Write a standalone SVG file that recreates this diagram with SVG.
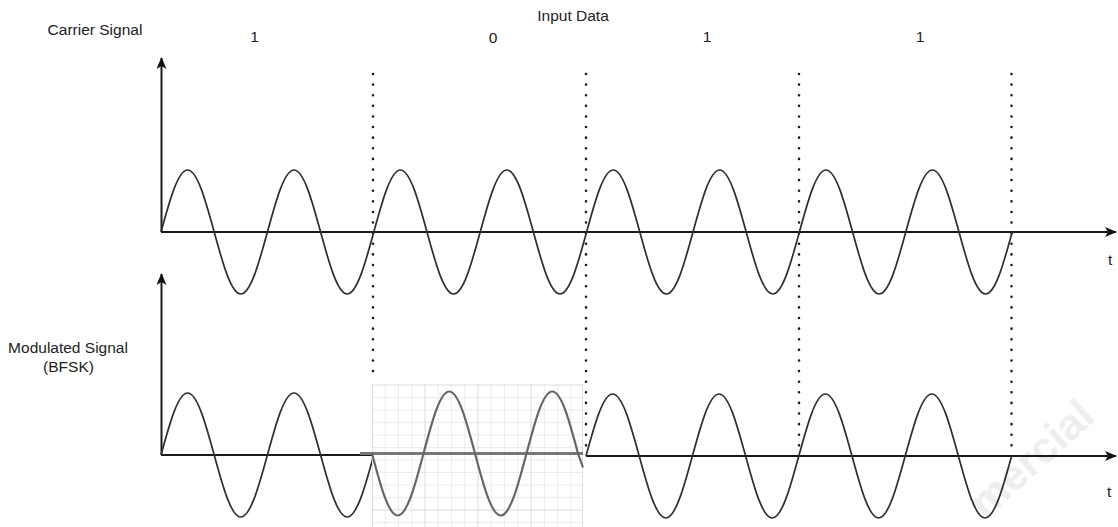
<svg xmlns="http://www.w3.org/2000/svg" width="1118" height="527" viewBox="0 0 1118 527">
  <style>
    .lbl { font-family: "Liberation Sans", Arial, sans-serif; font-size: 15.5px; fill: #222; }
    .axis { stroke: #1a1a1a; stroke-width: 2; fill: none; }
    .wave { stroke: #2e2e2e; stroke-width: 1.7; fill: none; }
    .div { stroke: #1a1a1a; stroke-width: 2.6; stroke-dasharray: 0.01 10.6; stroke-linecap: round; fill: none; }
    .gmin { stroke: #ececec; stroke-width: 1; }
    .gmaj { stroke: #dcdcdc; stroke-width: 1; }
  </style>
  <defs>
    <marker id="arr" viewBox="0 0 12 10" refX="11" refY="5" markerWidth="12" markerHeight="10" markerUnits="userSpaceOnUse" orient="auto">
      <path d="M0,0 L12,5 L0,10 L3,5 Z" fill="#111"/>
    </marker>
  </defs>
  <rect width="1118" height="527" fill="#fff"/>

  <g id="watermark">
    <text x="985" y="520" transform="rotate(-42 985 520)" font-family="Liberation Sans, Arial, sans-serif" font-size="43" font-weight="bold" fill="#eeeeee">mercial</text>
  </g>

  <g id="connectors">
    <g id="dividers">
      <line class="div" x1="373" y1="74" x2="373" y2="380"/>
      <line class="div" x1="586" y1="74" x2="586" y2="455"/>
      <line class="div" x1="799" y1="74" x2="799" y2="455"/>
      <line class="div" x1="1011.5" y1="74" x2="1011.5" y2="455"/>
    </g>
    <g id="axes">
      <line class="axis" x1="161.5" y1="232" x2="161.5" y2="58" marker-end="url(#arr)"/>
      <line class="axis" x1="161" y1="232" x2="1116" y2="232" marker-end="url(#arr)"/>
      <line class="axis" x1="161.5" y1="455" x2="161.5" y2="274" marker-end="url(#arr)"/>
      <line class="axis" x1="161" y1="455" x2="373" y2="455"/>
      <line class="axis" x1="586" y1="456" x2="1116" y2="456" marker-end="url(#arr)"/>
    </g>
  </g>

  <g id="carrier">
    <path class="wave" d="M161,232 c 8.675,-31.76 16.97,-62 26.6,-62 s 17.925,30.24 26.6,62 s 16.97,62 26.6,62 s 17.925,-30.24 26.6,-62
      s 16.97,-62 26.6,-62 s 17.925,30.24 26.6,62 s 16.97,62 26.6,62 s 17.925,-30.24 26.6,-62
      s 16.97,-62 26.6,-62 s 17.925,30.24 26.6,62 s 16.97,62 26.6,62 s 17.925,-30.24 26.6,-62
      s 16.97,-62 26.6,-62 s 17.925,30.24 26.6,62 s 16.97,62 26.6,62 s 17.925,-30.24 26.6,-62
      s 16.97,-62 26.6,-62 s 17.925,30.24 26.6,62 s 16.97,62 26.6,62 s 17.925,-30.24 26.6,-62
      s 16.97,-62 26.6,-62 s 17.925,30.24 26.6,62 s 16.97,62 26.6,62 s 17.925,-30.24 26.6,-62
      s 16.97,-62 26.6,-62 s 17.925,30.24 26.6,62 s 16.97,62 26.6,62 s 17.925,-30.24 26.6,-62
      s 16.97,-62 26.6,-62 s 17.925,30.24 26.6,62 s 16.97,62 26.6,62 s 17.925,-30.24 26.6,-62"/>
  </g>

  <g id="modulated-bit1">
    <path class="wave" d="M161,455 c 8.675,-31.76 16.97,-62 26.6,-62 s 17.925,30.24 26.6,62 s 16.97,62 26.6,62 s 17.925,-30.24 26.6,-62
      s 16.97,-62 26.6,-62 s 17.925,30.24 26.6,62 s 16.97,62 26.6,62 s 17.925,-30.24 26.6,-62"/>
  </g>

  <g id="modulated-bit0">
    <rect x="372" y="384" width="211" height="143" fill="#fff"/>
    <g class="gmin">
      <line x1="385.25" y1="384" x2="385.25" y2="527"/>
      <line x1="398.5" y1="384" x2="398.5" y2="527"/>
      <line x1="411.75" y1="384" x2="411.75" y2="527"/>
      <line x1="438.25" y1="384" x2="438.25" y2="527"/>
      <line x1="451.5" y1="384" x2="451.5" y2="527"/>
      <line x1="464.75" y1="384" x2="464.75" y2="527"/>
      <line x1="491.25" y1="384" x2="491.25" y2="527"/>
      <line x1="504.5" y1="384" x2="504.5" y2="527"/>
      <line x1="517.75" y1="384" x2="517.75" y2="527"/>
      <line x1="544.25" y1="384" x2="544.25" y2="527"/>
      <line x1="557.5" y1="384" x2="557.5" y2="527"/>
      <line x1="570.75" y1="384" x2="570.75" y2="527"/>
      <line x1="372" y1="397.5" x2="583" y2="397.5"/>
      <line x1="372" y1="410" x2="583" y2="410"/>
      <line x1="372" y1="422.5" x2="583" y2="422.5"/>
      <line x1="372" y1="435" x2="583" y2="435"/>
      <line x1="372" y1="447.5" x2="583" y2="447.5"/>
      <line x1="372" y1="460" x2="583" y2="460"/>
      <line x1="372" y1="472.5" x2="583" y2="472.5"/>
      <line x1="372" y1="485" x2="583" y2="485"/>
      <line x1="372" y1="497.5" x2="583" y2="497.5"/>
      <line x1="372" y1="522.5" x2="583" y2="522.5"/>
    </g>
    <g class="gmaj">
      <line x1="372.5" y1="384" x2="372.5" y2="527"/>
      <line x1="425" y1="384" x2="425" y2="527"/>
      <line x1="478" y1="384" x2="478" y2="527"/>
      <line x1="531" y1="384" x2="531" y2="527"/>
      <line x1="582.5" y1="384" x2="582.5" y2="527"/>
      <line x1="372" y1="385" x2="583" y2="385"/>
      <line x1="372" y1="510" x2="583" y2="510"/>
    </g>
    <line x1="360" y1="453.5" x2="583" y2="453.5" stroke="#777" stroke-width="3"/>
    <path d="M372,453.5 c 8.40,31.76 16.43,62 25.75,62 s 17.35,-30.24 25.75,-62 s 16.43,-62 25.75,-62 s 17.35,30.24 25.75,62
      s 16.43,62 25.75,62 s 17.35,-30.24 25.75,-62 s 16.43,-62 25.75,-62 s 17.35,30.24 25.75,62 l 5,14" fill="none" stroke="#666" stroke-width="2.2"/>
  </g>

  <g id="modulated-bit1b">
    <path class="wave" d="M586,456 c 8.675,-31.76 16.97,-62 26.6,-62 s 17.925,30.24 26.6,62 s 16.97,62 26.6,62 s 17.925,-30.24 26.6,-62
      s 16.97,-62 26.6,-62 s 17.925,30.24 26.6,62 s 16.97,62 26.6,62 s 17.925,-30.24 26.6,-62
      s 16.97,-62 26.6,-62 s 17.925,30.24 26.6,62 s 16.97,62 26.6,62 s 17.925,-30.24 26.6,-62
      s 16.97,-62 26.6,-62 s 17.925,30.24 26.6,62 s 16.97,62 26.6,62 s 17.925,-30.24 26.6,-62"/>
  </g>

  <g id="labels">
    <text class="lbl" x="95" y="35" text-anchor="middle">Carrier Signal</text>
    <text class="lbl" x="573" y="21" text-anchor="middle">Input Data</text>
    <text class="lbl" x="254.5" y="42" text-anchor="middle">1</text>
    <text class="lbl" x="493" y="43" text-anchor="middle">0</text>
    <text class="lbl" x="707" y="42" text-anchor="middle">1</text>
    <text class="lbl" x="920" y="42" text-anchor="middle">1</text>
    <text class="lbl" x="68" y="353" text-anchor="middle">Modulated Signal</text>
    <text class="lbl" x="68.5" y="372" text-anchor="middle">(BFSK)</text>
    <text class="lbl" x="1108" y="265">t</text>
    <text class="lbl" x="1107" y="497">t</text>
  </g>
</svg>
